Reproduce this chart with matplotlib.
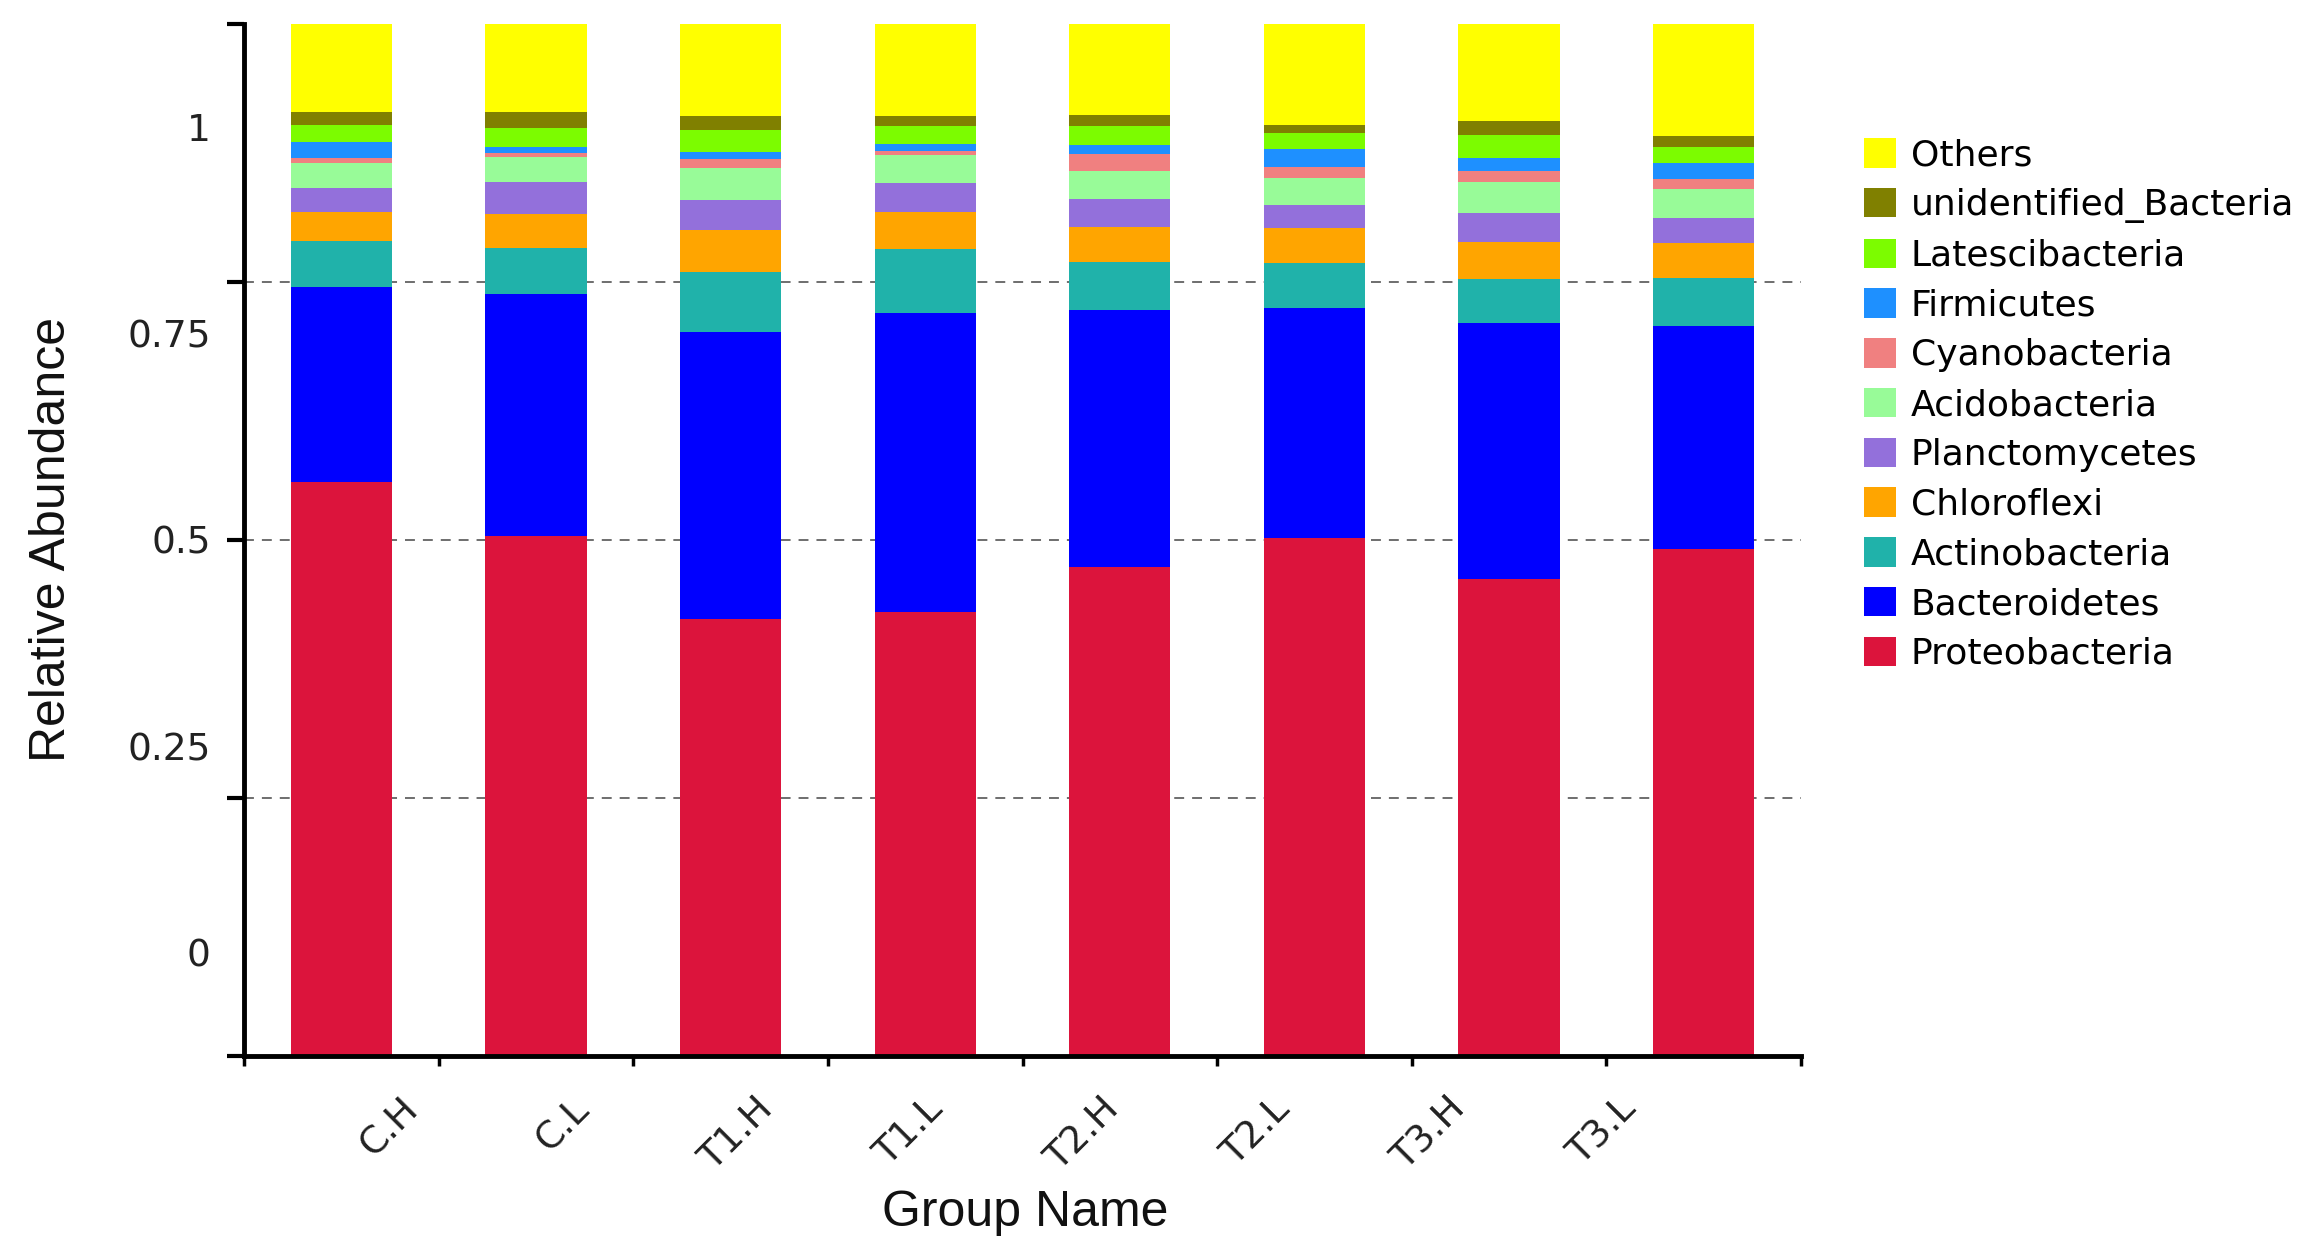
import matplotlib
matplotlib.use("Agg")
import matplotlib.pyplot as plt
from matplotlib.patches import Patch

# ── data (relative abundance of top phyla per group) ──
groups = ["C.H", "C.L", "T1.H", "T1.L", "T2.H", "T2.L", "T3.H", "T3.L"]

proteobacteria  = [0.556, 0.504, 0.423, 0.430, 0.474, 0.502, 0.462, 0.491]
bacteroidetes   = [0.189, 0.234, 0.279, 0.290, 0.249, 0.223, 0.248, 0.216]
actinobacteria  = [0.045, 0.045, 0.058, 0.062, 0.046, 0.043, 0.043, 0.047]
chloroflexi     = [0.028, 0.033, 0.040, 0.036, 0.034, 0.034, 0.036, 0.034]
planctomycetes  = [0.023, 0.031, 0.029, 0.028, 0.027, 0.023, 0.028, 0.024]
acidobacteria   = [0.024, 0.024, 0.031, 0.027, 0.028, 0.026, 0.030, 0.028]
cyanobacteria   = [0.005, 0.004, 0.009, 0.004, 0.016, 0.010, 0.011, 0.010]
firmicutes      = [0.016, 0.006, 0.007, 0.007, 0.009, 0.018, 0.012, 0.015]
latescibacteria = [0.016, 0.018, 0.021, 0.017, 0.018, 0.015, 0.022, 0.016]
unidentified    = [0.013, 0.016, 0.014, 0.010, 0.011, 0.008, 0.014, 0.010]
others          = [0.086, 0.087, 0.090, 0.090, 0.088, 0.099, 0.096, 0.110]

# bottom -> top stacking order
phyla = ["Proteobacteria", "Bacteroidetes", "Actinobacteria", "Chloroflexi",
         "Planctomycetes", "Acidobacteria", "Cyanobacteria", "Firmicutes",
         "Latescibacteria", "unidentified_Bacteria", "Others"]
series = [proteobacteria, bacteroidetes, actinobacteria, chloroflexi,
          planctomycetes, acidobacteria, cyanobacteria, firmicutes,
          latescibacteria, unidentified, others]
colors = ["#DC143C", "#0000FF", "#20B2AA", "#FFA500", "#9370DB", "#98FB98",
          "#F08080", "#1E90FF", "#7CFC00", "#808000", "#FFFF00"]

# the original figure prints its y labels and group names shifted off the ticks
ytick_text = ["0", "0.25", "0.5", "0.75", "1"]

W, H = 2319, 1254
fig = plt.figure(figsize=(W / 100, H / 100), dpi=100)
ax = fig.add_axes([244 / W, 1 - 1056 / H, (1801 - 244) / W, (1056 - 24) / H])

x = list(range(len(groups)))
bottom = [0.0] * len(groups)
for name, vals, col in zip(phyla, series, colors):
    ax.bar(x, vals, width=0.52, bottom=bottom, color=col, zorder=2, linewidth=0)
    bottom = [b + v for b, v in zip(bottom, vals)]

for yv in [0.25, 0.5, 0.75]:
    ax.axhline(yv, color="#6e6e6e", lw=1.4, ls=(0, (5.1, 4.1)), zorder=1)

ax.set_xlim(-0.5, len(groups) - 0.5)
ax.set_ylim(0, 1)

for s in ["top", "right"]:
    ax.spines[s].set_visible(False)
for s in ["left", "bottom"]:
    ax.spines[s].set_linewidth(3.5)
    ax.spines[s].set_color("black")

# major ticks: plain marks
ax.set_yticks([0, 0.25, 0.5, 0.75, 1.0])
ax.set_yticklabels([])
ax.set_xticks([i - 0.5 for i in range(len(groups) + 1)])
ax.set_xticklabels([])
ax.tick_params(axis="y", which="major", length=12, width=3, direction="out")
ax.tick_params(axis="x", which="major", length=7, width=2.5, direction="out")

# minor ticks carry the (offset) labels
ax.yaxis.remove_overlapping_locs = False
ax.xaxis.remove_overlapping_locs = False
ax.set_yticks([0.1, 0.3, 0.5, 0.7, 0.9], minor=True)
ax.set_yticklabels(ytick_text, minor=True, fontsize=27, color="#222222",
                   family="DejaVu Sans")
ax.set_xticks([0.25 + 0.89 * i for i in range(len(groups))], minor=True)
ax.set_xticklabels(groups, minor=True, fontsize=27, color="#222222",
                   rotation=45, ha="center", family="DejaVu Sans")
ax.tick_params(axis="y", which="minor", length=0, pad=24)
ax.tick_params(axis="x", which="minor", length=0, pad=25)

fig.text(52 / W, 1 - 540 / H, "Relative Abundance", rotation=90,
         ha="center", va="center", fontsize=36, family="Liberation Sans",
         color="#111111")
fig.text(1025 / W, 1 - 1213 / H, "Group Name", ha="center", va="center",
         fontsize=36, family="Liberation Sans", color="#111111")

handles = [Patch(facecolor=c, edgecolor="none", label=n)
           for n, c in zip(phyla[::-1], colors[::-1])]
fig.legend(handles=handles, loc="upper left",
           bbox_to_anchor=(1864 / W, 1 - 138 / H), frameon=False,
           prop={"family": "DejaVu Sans", "size": 26},
           handlelength=0.88, handleheight=0.88, handletextpad=0.42,
           labelspacing=0.43, borderpad=0, borderaxespad=0)

fig.savefig("out.png", dpi=100, facecolor="white")
